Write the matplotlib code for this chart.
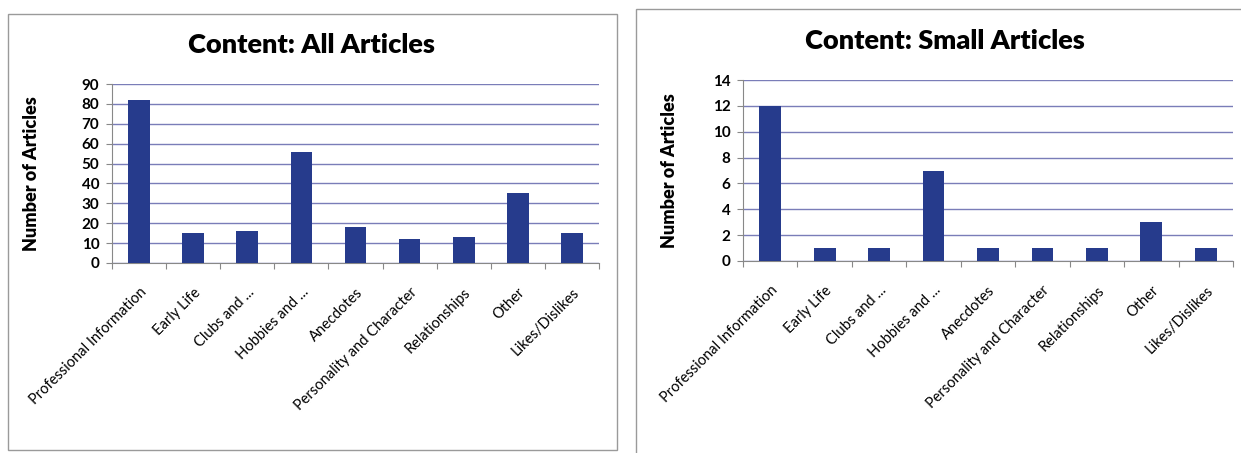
import matplotlib.pyplot as plt
from matplotlib.patches import Rectangle

plt.rcParams['font.family'] = ['Lato', 'DejaVu Sans']

categorias = ['Professional Information', 'Early Life', 'Clubs and ...', 'Hobbies and ...',
              'Anecdotes', 'Personality and Character', 'Relationships', 'Other', 'Likes/Dislikes']
todos_artigos = [82, 15, 16, 56, 18, 12, 13, 35, 15]
artigos_pequenos = [12, 1, 1, 7, 1, 1, 1, 3, 1]

cor_barra = '#263b8c'
cor_grade = '#7a7db8'

fig = plt.figure(figsize=(12.41, 4.53), dpi=100)
W, H = 1241, 453


def px_axes(x0, y0, x1, y1):
    # posição em pixels (origem no topo) -> coordenadas da figura
    return fig.add_axes([x0 / W, (H - y1) / H, (x1 - x0) / W, (y1 - y0) / H])


# molduras dos dois gráficos
for (x0, y0, x1, y1) in [(8, 14, 617, 450), (636, 9, 1245, 456)]:
    fig.patches.append(Rectangle((x0 / W, (H - y1) / H), (x1 - x0) / W, (y1 - y0) / H,
                                 transform=fig.transFigure, fill=False,
                                 edgecolor='#9a9a9a', linewidth=1.0))


def desenhar(ax, valores, titulo, ymax, passo, titulo_xy, ylabel_x):
    x = range(len(categorias))
    ax.bar(x, valores, width=0.4, color=cor_barra, zorder=3)
    ax.set_xlim(-0.5, len(categorias) - 0.5)
    ax.set_ylim(0, ymax)
    ax.set_yticks(range(0, ymax + 1, passo))
    ax.yaxis.grid(True, color=cor_grade, linewidth=1.0, zorder=0)
    ax.set_axisbelow(True)
    for lado in ['top', 'right']:
        ax.spines[lado].set_visible(False)
    ax.spines['left'].set_color('#888888')
    ax.spines['bottom'].set_color('#888888')
    # marcas do eixo x entre as categorias
    ax.set_xticks([i - 0.5 for i in range(len(categorias) + 1)], minor=False)
    ax.set_xticklabels([])
    ax.set_xticks(list(x), minor=True)
    ax.set_xticklabels(categorias, minor=True, rotation=45, ha='right',
                       rotation_mode='anchor', fontsize=10.5)
    ax.tick_params(axis='x', which='minor', length=0, pad=16)
    ax.tick_params(axis='x', which='major', length=4, color='#888888')
    ax.tick_params(axis='y', length=4, color='#888888', labelsize=11, pad=5)
    for lbl in ax.get_yticklabels():
        lbl.set_fontweight('bold')
    ax.set_ylabel('Number of Articles', fontsize=13, fontweight='heavy')
    ax.yaxis.set_label_coords(ylabel_x, 0.5)
    fig.text(titulo_xy[0] / W, (H - titulo_xy[1]) / H, titulo, ha='center', va='center',
             fontsize=19.5, fontweight='heavy')


ax1 = px_axes(112, 84, 599, 263)
desenhar(ax1, todos_artigos, 'Content: All Articles', 90, 10, (311, 45), -0.148)

ax2 = px_axes(743, 80, 1233, 261)
desenhar(ax2, artigos_pequenos, 'Content: Small Articles', 14, 2, (945, 41), -0.133)

fig.savefig('out.png', dpi=100)
